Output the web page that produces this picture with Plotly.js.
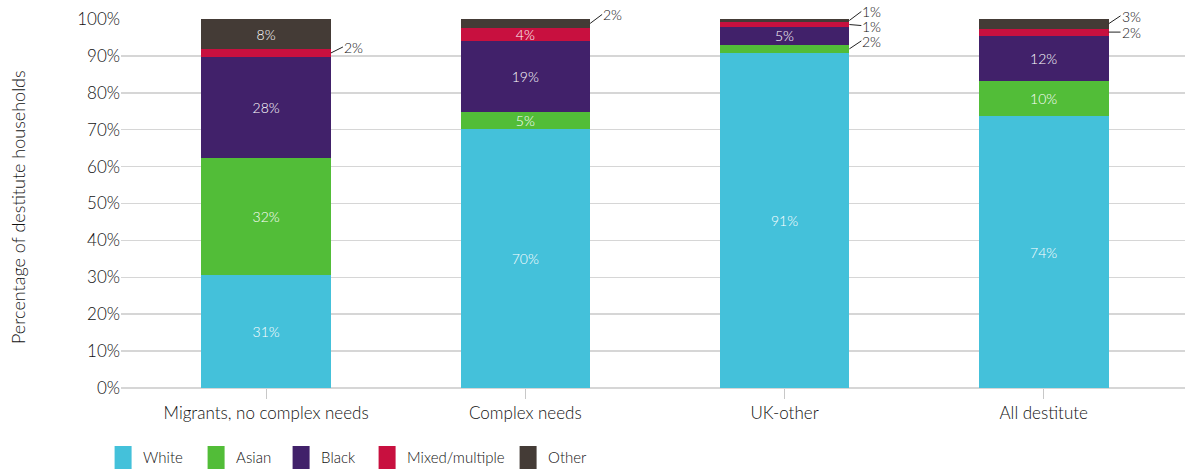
<!DOCTYPE html>
<html>
<head>
<meta charset="utf-8">
<script src="https://cdn.plot.ly/plotly-3.0.1.min.js"></script>
<style>html,body{margin:0;padding:0;background:#fff;}#chart{width:1185px;height:472px;}</style>
</head>
<body>
<div id="chart"></div>
<script>
// ---- data ----
const categories = ["Migrants, no complex needs", "Complex needs", "UK-other", "All destitute"];
const seriesNames = ["White", "Asian", "Black", "Mixed/multiple", "Other"];
const white = [30.6, 70.2, 90.8, 73.7];
const asian = [31.7, 4.6, 2.2, 9.6];
const black = [27.5, 19.2, 4.8, 12.2];
const mixed = [2.0, 3.6, 1.4, 1.9];
const other = [8.2, 2.4, 0.8, 2.6];
const yTickVals = [0, 10, 20, 30, 40, 50, 60, 70, 80, 90, 100];
const yTickText = ["0%", "10%", "20%", "30%", "40%", "50%", "60%", "70%", "80%", "90%", "100%"];

// ---- style ----
const colors = ["#44C1DA", "#52BD38", "#41216A", "#C8103F", "#443B36"];
const legendWidths = [48, 40, 41, 96, 40];
const FONT = "Lato, 'Noto Sans', sans-serif";
const W = 300;
const TXT = "#111";
const seriesValues = [white, asian, black, mixed, other];
const insideMin = 3;

const idx = categories.map((c, i) => i);
const traces = seriesValues.map((vals, s) => ({
  type: "bar",
  name: seriesNames[s],
  x: idx,
  y: vals,
  width: 0.5,
  legendwidth: legendWidths[s],
  marker: {color: colors[s], line: {width: 0}},
  text: vals.map(v => v >= insideMin ? Math.round(v) + "%" : ""),
  textposition: "inside",
  insidetextanchor: "middle",
  constraintext: "none",
  textfont: {family: FONT, size: 14, color: "#ffffff", weight: W},
  hoverinfo: "skip"
}));

// outside labels with leader lines: [series, category, ax, ay]
const outside = [
  [3, 0, 12, -6],
  [4, 1, 12, -9],
  [4, 2, 12, -9],
  [3, 2, 12, 1],
  [1, 2, 12, -8],
  [4, 3, 12, -8],
  [3, 3, 12, 0]
];
const annotations = outside.map(([s, c, ax, ay]) => {
  let base = 0;
  for (let k = 0; k < s; k++) base += seriesValues[k][c];
  const v = seriesValues[s][c];
  return {
    x: c + 0.25, y: base + v / 2, xref: "x", yref: "y",
    text: Math.round(v) + "%",
    showarrow: true, arrowhead: 0, arrowwidth: 1, arrowcolor: "#222",
    standoff: 0, startstandoff: 0, height: 12, borderpad: 0,
    ax: ax, ay: ay, xanchor: "left", yanchor: "middle",
    font: {family: FONT, size: 14, color: TXT, weight: W}
  };
});

annotations.push({
  xref: "paper", yref: "paper", x: -0.097, y: 0.49,
  xanchor: "center", yanchor: "middle", textangle: -90, showarrow: false,
  text: "Percentage of destitute households",
  font: {family: FONT, size: 18, color: TXT, weight: W}
});

const layout = {
  width: 1185, height: 472,
  margin: {l: 121, r: 0, t: 19, b: 84},
  barmode: "stack",
  bargap: 0.5,
  paper_bgcolor: "#fff", plot_bgcolor: "#fff",
  showlegend: true,
  legend: {
    orientation: "h", xref: "container", yref: "container",
    x: 0.087, y: 0.03, xanchor: "left", yanchor: "middle",
    font: {family: FONT, size: 15, color: TXT, weight: W},
    traceorder: "normal", itemclick: false
  },
  xaxis: {
    range: [-0.56, 3.545],
    tickvals: idx, ticktext: categories,
    ticks: "outside", ticklen: 10, tickcolor: "#c8c8c8", tickwidth: 1,
    showgrid: false, zeroline: false, showline: false,
    tickfont: {family: FONT, size: 17, color: TXT, weight: W}
  },
  yaxis: {
    range: [0, 100],
    tickvals: yTickVals, ticktext: yTickText,
    showgrid: true, gridcolor: "#d6d6d6", gridwidth: 1.5,
    zeroline: true, zerolinecolor: "#d6d6d6", zerolinewidth: 1.5,
    ticks: "", ticklen: 0,
    tickfont: {family: FONT, size: 17, color: TXT, weight: W},
    showline: false, automargin: false
  },
  annotations: annotations
};

Plotly.newPlot("chart", traces, layout, {displayModeBar: false, staticPlot: true}).then(() => {
  document.querySelectorAll(".legendpoints path").forEach(p => p.setAttribute("d", "M8.5,11.5H-8.5V-11.5H8.5Z"));
});
</script>
</body>
</html>
